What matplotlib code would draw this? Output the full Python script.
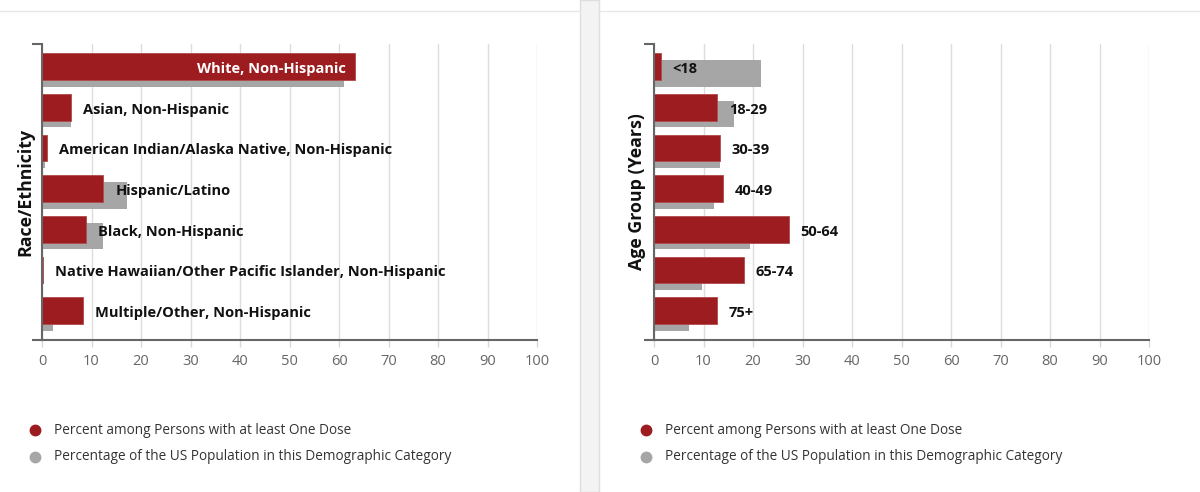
import matplotlib.pyplot as plt
from matplotlib.patches import Rectangle
from matplotlib.lines import Line2D

plt.rcParams['font.family'] = ['Open Sans', 'DejaVu Sans']

# data (percent)
race_labels = ['White, Non-Hispanic', 'Asian, Non-Hispanic',
               'American Indian/Alaska Native, Non-Hispanic', 'Hispanic/Latino',
               'Black, Non-Hispanic',
               'Native Hawaiian/Other Pacific Islander, Non-Hispanic',
               'Multiple/Other, Non-Hispanic']
race_dose = [63.3, 5.8, 1.0, 12.4, 8.8, 0.2, 8.3]
race_pop = [61.1, 5.8, 0.7, 17.1, 12.3, 0.2, 2.3]

age_labels = ['<18', '18-29', '30-39', '40-49', '50-64', '65-74', '75+']
age_dose = [1.4, 12.7, 13.3, 13.9, 27.2, 18.1, 12.7]
age_pop = [21.7, 16.2, 13.3, 12.1, 19.3, 9.7, 7.0]

legend_labels = ['Percent among Persons with at least One Dose',
                 'Percentage of the US Population in this Demographic Category']

RED = '#9c1c20'
GRAY = '#a6a6a6'
W, H = 1200, 492


def draw_panel(ax, labels, dose, pop, ylabel, label_x, inside_first=False):
    n = len(labels)
    ys = list(range(n))
    h = 0.656
    off = 0.083
    ax.barh([y + off for y in ys], pop, height=h, color=GRAY, zorder=2)
    ax.barh([y - off for y in ys], dose, height=h, color=RED,
            edgecolor='#b04a4c', linewidth=0.6, zorder=3)
    for i, (lab, v) in enumerate(zip(labels, dose)):
        yy = i - off + 0.06
        if inside_first and i == 0:
            ax.annotate(lab, (v, yy), xytext=(-7, 0), textcoords='offset points',
                        ha='right', va='center', fontsize=10.5, fontweight='bold',
                        color='white', zorder=4)
        else:
            ax.annotate(lab, (v, yy), xytext=(8.6, 0), textcoords='offset points',
                        ha='left', va='center', fontsize=10.5, fontweight='bold',
                        color='#111111', zorder=4)
    ax.set_xlim(0, 100)
    ax.set_ylim(n - 0.36, -0.64)
    ax.set_xticks(range(0, 101, 10))
    ax.set_yticks([n - 0.36, -0.64])
    ax.set_yticklabels(['', ''])
    ax.tick_params(axis='y', length=7, width=1.5, color='#666666', direction='out')
    ax.tick_params(axis='x', length=5, width=1, color='#d8d8d8', labelcolor='#666666',
                   labelsize=10.5, pad=5)
    ax.grid(axis='x', color='#dddddd', linewidth=1, zorder=0)
    ax.set_axisbelow(True)
    for s in ['top', 'right']:
        ax.spines[s].set_visible(False)
    for s in ['left', 'bottom']:
        ax.spines[s].set_color('#666666')
        ax.spines[s].set_linewidth(1.5)
    ax.spines['left'].set_zorder(5)
    ax.set_ylabel(ylabel, fontsize=12.8, fontweight='bold', color='#111111')
    ax.yaxis.set_label_coords(label_x, 0.5)


fig = plt.figure(figsize=(W / 100, H / 100), dpi=100)

ax1 = fig.add_axes([42 / W, 1 - 340 / H, 495 / W, 296 / H])
draw_panel(ax1, race_labels, race_dose, race_pop, 'Race/Ethnicity', -0.016,
           inside_first=True)

ax2 = fig.add_axes([654 / W, 1 - 340 / H, 495 / W, 296 / H])
draw_panel(ax2, age_labels, age_dose, age_pop, 'Age Group (Years)', -0.016)

# separators between the two cards
fig.add_artist(Rectangle((580 / W, 0), 19 / W, 1, transform=fig.transFigure,
                         facecolor='#f3f3f3', edgecolor='#dedede', linewidth=1))
fig.add_artist(Line2D([0, 580 / W], [1 - 10.5 / H] * 2, transform=fig.transFigure,
                      color='#e8e8e8', linewidth=1))
fig.add_artist(Line2D([599 / W, 1], [1 - 10.5 / H] * 2, transform=fig.transFigure,
                      color='#e8e8e8', linewidth=1))

# legends
for x0 in [35, 646]:
    for k, (lab, col) in enumerate(zip(legend_labels, [RED, GRAY])):
        yy = 1 - (430 + 27 * k) / H
        fig.add_artist(Line2D([x0 / W], [yy], transform=fig.transFigure, marker='o',
                              markersize=7.5, color=col, linestyle='none'))
        fig.text((x0 + 19) / W, yy, lab, fontsize=9.8, color='#333333', va='center')

fig.savefig('out.png', dpi=100)
